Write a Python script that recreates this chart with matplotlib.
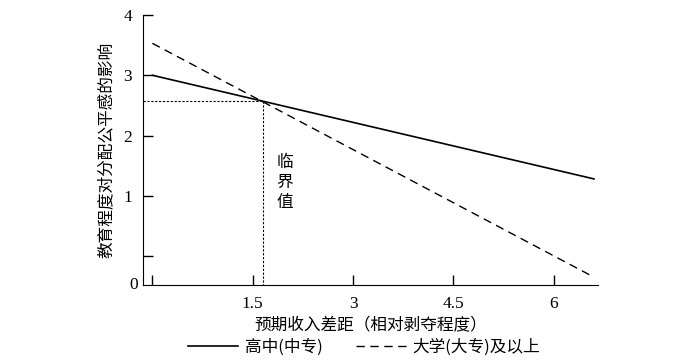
import matplotlib
matplotlib.use('Agg')
import matplotlib.pyplot as plt
import numpy as np

plt.rcParams['font.family'] = ['Liberation Serif', 'Noto Sans CJK SC']

# 直线两端点
x_ends = [0.0, 6.6]
high_school = [3.0, 1.28]       # 高中(中专)
college = [3.53, -0.35]         # 大学(大专)及以上
x_cross, y_cross = 1.65, 2.57   # 临界值

xticks = [0, 1.5, 3, 4.5, 6]
xtick_labels = ['', '1.5', '3', '4.5', '6']
yticks = [1, 2, 3, 4]

x_min, x_max = -0.14, 6.66
y_min, y_max = -0.48, 4.0

fig = plt.figure(figsize=(7, 3.62), dpi=100)
ax = fig.add_axes([0.2043, 0.2127, 0.6500, 0.7459])

ax.plot(x_ends, high_school, 'k-', lw=1.2, label='高中(中专)')
ax.plot(x_ends, college, 'k', ls=(0, (6, 4)), lw=1.0, label='大学(大专)及以上')
ax.plot([x_min, x_cross], [y_cross, y_cross], 'k', ls=(0, (2, 1.5)), lw=0.8)
ax.plot([x_cross, x_cross], [y_cross, y_min], 'k', ls=(0, (2, 1.5)), lw=0.8)

ax.set_xlim(x_min, x_max)
ax.set_ylim(y_min, y_max)
ax.spines['top'].set_visible(False)
ax.spines['right'].set_visible(False)
ax.set_xticks(xticks)
ax.set_xticklabels(xtick_labels, fontsize=12.5)
ax.set_yticks([0] + yticks)
ax.set_yticklabels([''] + [str(t) for t in yticks], fontsize=12.5)
ax.tick_params(direction='in', length=7, width=1, pad=8)

ax.text(-0.22, y_min, '0', ha='right', va='center', fontsize=12.5)
ax.text(1.98, 1.22, '临\n界\n值', ha='center', va='center', fontsize=12,
        linespacing=1.25, family=['Noto Sans CJK SC'])

ax.set_ylabel('教育程度对分配公平感的影响', fontsize=12,
              family=['Noto Sans CJK SC'], labelpad=6)
ax.set_xlabel('预期收入差距（相对剥夺程度）', fontsize=12,
              family=['Noto Sans CJK SC'], labelpad=3)

leg = fig.legend(loc='center', bbox_to_anchor=(0.52, 0.04), ncol=2,
                 frameon=False, handlelength=3.0, handletextpad=0.4,
                 columnspacing=2.0, prop={'family': ['Noto Sans CJK SC'], 'size': 12})

fig.savefig('out.png', dpi=100)
